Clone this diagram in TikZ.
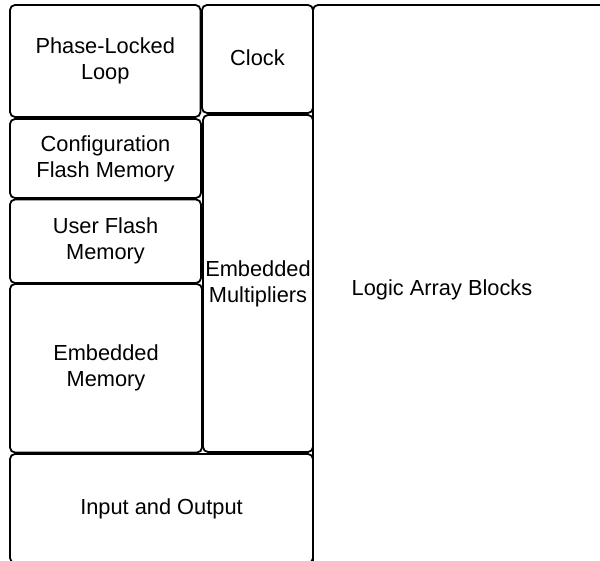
\documentclass[tikz,border=0pt]{standalone}
\usepackage{fontspec}
\setmainfont{Liberation Sans}
\begin{document}
\begin{tikzpicture}[x=1pt,y=-1pt,
  block/.style={draw=black, line width=1.8pt, rounded corners=5pt, fill=white,
    inner sep=0pt, align=center,
    font=\fontsize{21.8pt}{26pt}\selectfont},
  blocklabel/.style={inner sep=0pt, align=center,
    font=\fontsize{21.8pt}{26pt}\selectfont}]
\clip (0,0) rectangle (600,561);
\fill[white] (0,0) rectangle (600,561);

% logic array region, running off the right and bottom edges
\draw[line width=1.8pt, rounded corners=5pt] (313,5) rectangle (660,580);
\node[blocklabel] (lab) at (442,290) {Logic Array Blocks};

% left column
\node[block, minimum width=190.5pt, minimum height=112pt] (pll) at (105.25,61) {Phase-Locked\\Loop};
\node[block, minimum width=191pt, minimum height=79pt] (cfg) at (105.5,158.5) {Configuration\\Flash Memory};
\node[block, minimum width=191pt, minimum height=83.5pt] (ufm) at (105.5,241.25)
  {\raisebox{2pt}{\begin{tabular}{@{}c@{}}User Flash\\Memory\end{tabular}}};
\node[block, minimum width=192pt, minimum height=168.5pt] (emem) at (106,368.25) {Embedded\\Memory};

% middle column
\node[block, minimum width=111pt, minimum height=108pt, text depth=2pt] (clk) at (257.5,59) {Clock};
\node[block, minimum width=110pt, minimum height=337pt] (mult) at (258,283.5) {Embedded\\Multipliers};

% bottom strip
\node[block, minimum width=303pt, minimum height=109pt] (io) at (161.5,508.5) {Input and Output};
\end{tikzpicture}
\end{document}
